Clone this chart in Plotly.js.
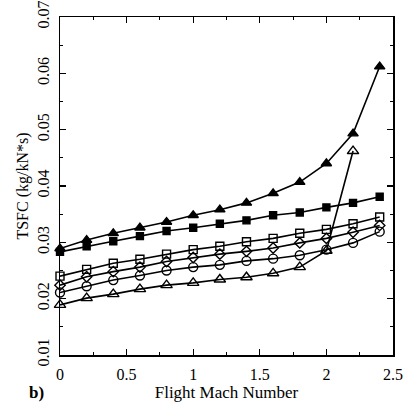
<!DOCTYPE html>
<html>
<head>
<meta charset="utf-8">
<script src="https://cdn.plot.ly/plotly-3.0.1.min.js"></script>
<style>html,body{margin:0;padding:0;background:#fff;}#chart{width:415px;height:406px;}</style>
</head>
<body>
<div id="chart"></div>
<script>
var mach = [0, 0.2, 0.4, 0.6, 0.8, 1.0, 1.2, 1.4, 1.6, 1.8, 2.0, 2.2, 2.4];
var machF = [0, 0.2, 0.4, 0.6, 0.8, 1.0, 1.2, 1.4, 1.6, 1.8, 2.0, 2.2];
var filledTri = [0.0289, 0.0304, 0.0316, 0.0326, 0.0336, 0.0348, 0.0358, 0.0370, 0.0387, 0.0407, 0.0440, 0.0493, 0.0612];
var filledSq = [0.0283, 0.0293, 0.0302, 0.0311, 0.0320, 0.0326, 0.0333, 0.0339, 0.0348, 0.0353, 0.0362, 0.0370, 0.0381];
var openSq = [0.0240, 0.0252, 0.0263, 0.0270, 0.0279, 0.0287, 0.0293, 0.0301, 0.0307, 0.0316, 0.0323, 0.0333, 0.0345];
var openDia = [0.0224, 0.0239, 0.0248, 0.0256, 0.0266, 0.0273, 0.0279, 0.0284, 0.0290, 0.0299, 0.0307, 0.0318, 0.0330];
var openCirc = [0.0211, 0.0222, 0.0233, 0.0241, 0.0250, 0.0256, 0.0260, 0.0267, 0.0271, 0.0277, 0.0287, 0.0299, 0.0319];
var openTri = [0.0189, 0.0201, 0.0208, 0.0217, 0.0224, 0.0228, 0.0234, 0.0238, 0.0245, 0.0256, 0.0285, 0.0462];

function tr(x, y, sym, size) {
  return {
    x: x, y: y, type: 'scatter', mode: 'lines+markers', cliponaxis: false,
    line: {color: '#000', width: 1.6},
    marker: {symbol: sym, size: size, color: '#000', line: {color: '#000', width: 1.4}},
    showlegend: false
  };
}
var data = [
  tr(mach, filledTri, 'triangle-up', 9),
  tr(mach, filledSq, 'square', 7),
  tr(mach, openSq, 'square-open', 8),
  tr(mach, openDia, 'diamond-open', 8),
  tr(mach, openCirc, 'circle-open', 9),
  tr(machF, openTri, 'triangle-up-open', 10)
];
var fam = 'Liberation Serif, Times New Roman, serif';
var tickF = {family: fam, size: 16, color: '#000'};
var layout = {
  width: 415, height: 406,
  margin: {l: 60, r: 22, t: 17, b: 51},
  paper_bgcolor: '#fff', plot_bgcolor: '#fff',
  font: tickF,
  xaxis: {
    range: [0, 2.5], dtick: 0.5, tick0: 0,
    showgrid: false, zeroline: false,
    showline: true, linecolor: '#000', linewidth: 1.5, mirror: 'ticks',
    ticks: 'inside', ticklen: 6, tickwidth: 1.3, tickcolor: '#000',
    minor: {dtick: 0.25, ticklen: 3, tickwidth: 1, tickcolor: '#000', ticks: 'inside'},
    tickfont: tickF, ticklabelstandoff: 4,
    title: {text: 'Flight Mach Number', font: {family: fam, size: 17, color: '#000'}, standoff: 2}
  },
  yaxis: {
    range: [0.01, 0.07], dtick: 0.01, tick0: 0,
    showgrid: false, zeroline: false,
    showline: true, linecolor: '#000', linewidth: 1.5, mirror: 'ticks',
    ticks: 'inside', ticklen: 6, tickwidth: 1.3, tickcolor: '#000',
    minor: {dtick: 0.005, ticklen: 3, tickwidth: 1, tickcolor: '#000', ticks: 'inside'},
    tickangle: -90, tickfont: tickF, ticklabelstandoff: 3,
    title: {text: 'TSFC (kg/kN*s)', font: {family: fam, size: 16, color: '#000'}, standoff: 2}
  },
  annotations: [{
    text: '<b>b)</b>', xref: 'paper', yref: 'paper', x: -0.07, y: -0.11,
    xanchor: 'center', yanchor: 'middle', showarrow: false,
    font: {family: fam, size: 17, color: '#000'}
  }]
};
Plotly.newPlot('chart', data, layout, {staticPlot: true, displayModeBar: false});
</script>
</body>
</html>
